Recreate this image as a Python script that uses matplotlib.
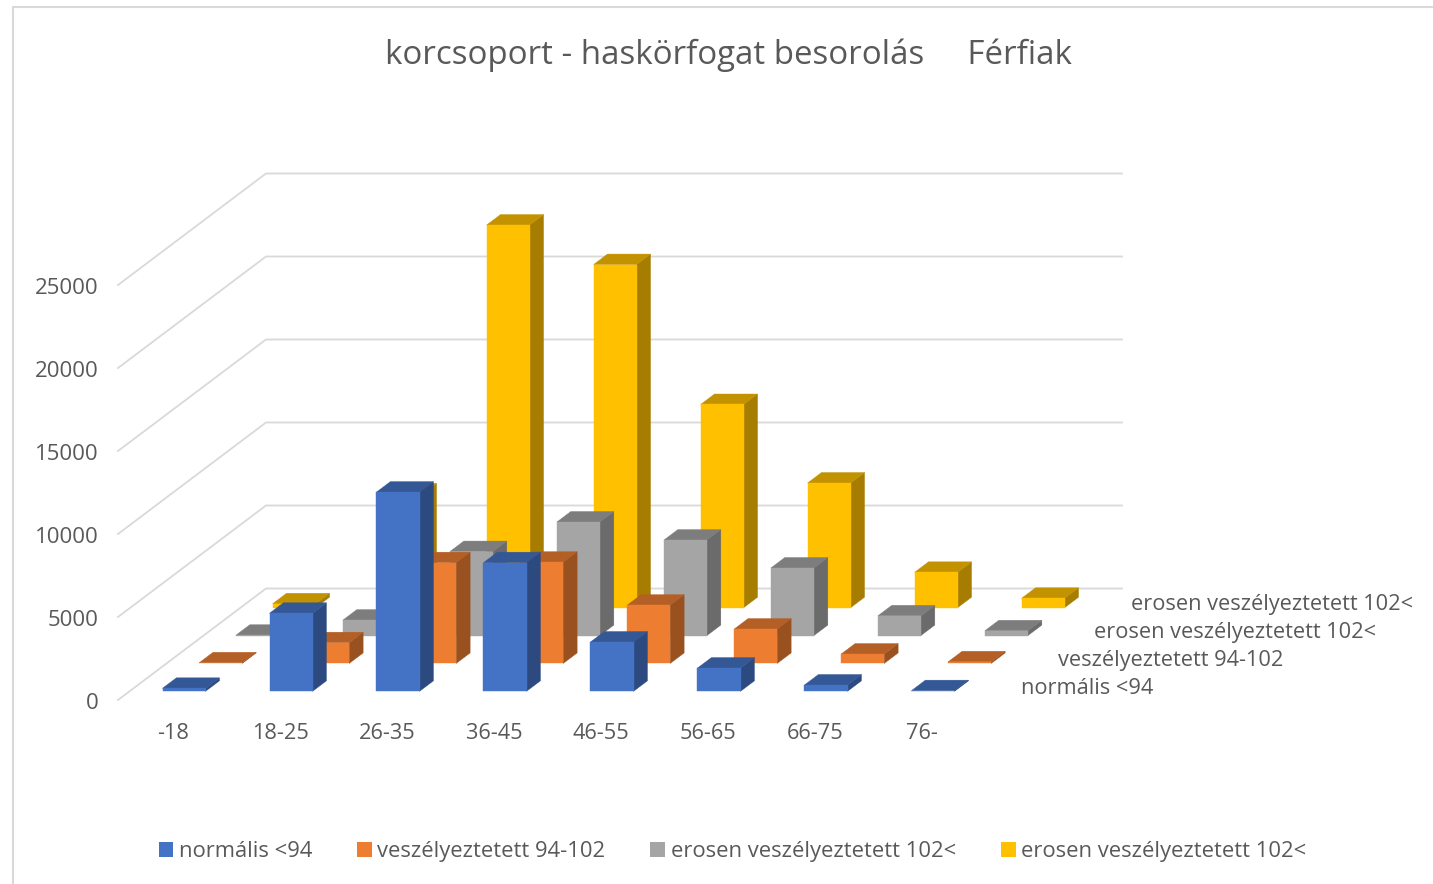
import matplotlib
matplotlib.use("Agg")
import matplotlib.pyplot as plt
from matplotlib.patches import Polygon, Patch
from matplotlib.lines import Line2D
from matplotlib.transforms import ScaledTranslation

categories = ["-18", "18-25", "26-35", "36-45", "46-55", "56-65", "66-75", "76-"]
series_names = ["normális <94", "veszélyeztetett 94-102",
                "erosen veszélyeztetett 102<", "erosen veszélyeztetett 102<"]
normalis = [180, 4700, 12000, 7750, 2970, 1400, 380, 40]
veszelyeztetett = [40, 1250, 6070, 6100, 3510, 2070, 566, 100]
erosen_a = [20, 930, 5060, 6840, 5750, 4070, 1190, 290]
erosen_b = [235, 6860, 23050, 20670, 12240, 7510, 2130, 566]
series_values = [normalis, veszelyeztetett, erosen_a, erosen_b]
value_ticks = [0, 5000, 10000, 15000, 20000, 25000]

front_colors = ["#4472C4", "#ED7D31", "#A5A5A5", "#FFC000"]
top_colors = ["#345795", "#B45F25", "#7D7D7D", "#C29200"]
side_colors = ["#2C4A7F", "#9A5120", "#6B6B6B", "#A67D00"]

W, H = 1433, 884
FONT = "Open Sans"
TXT = "#595959"
GRID = "#D9D9D9"

fig = plt.figure(figsize=(W / 100, H / 100), dpi=100, facecolor="white")

# axes frame: value 0 at y=700 px, category 0 at x=118 px
PX_CAT = 107.0
PX_VAL = 83.0 / 5000
L, R, B, T = 118, 1122, 700, 174
ax = fig.add_axes([L / W, 1 - B / H, (R - L) / W, (B - T) / H])
ax.set_xlim(0, (R - L) / PX_CAT)
ax.set_ylim(0, (B - T) / PX_VAL)
ax.patch.set_visible(False)
for s in ax.spines.values():
    s.set_visible(False)

# oblique depth: a depth of 1 series slot shifts by these data amounts
SLOT_X = 37.0 / PX_CAT
SLOT_Y = 27.875 / PX_VAL


def proj(x, depth, v):
    return (x + depth * SLOT_X, v + depth * SLOT_Y)


n_series = len(series_values)

# walls
for v in value_ticks:
    p0 = proj(0, 0, v)
    p1 = proj(0, n_series, v)
    p2 = proj(len(categories), n_series, v)
    ax.plot([p0[0], p1[0], p2[0]], [p0[1], p1[1], p2[1]], color=GRID,
            lw=1.3, zorder=1, solid_joinstyle="miter", clip_on=False)

GAP_X = 0.308
GAP_D = 0.312
z = 2
for s in range(n_series - 1, -1, -1):
    d0, d1 = s + GAP_D, s + 1 - GAP_D
    # back slots sit a fraction of a pixel further left than a strict slot step
    shift = -0.3 * s / PX_CAT
    for i, v in enumerate(series_values[s]):
        x0, x1 = i + GAP_X + shift, i + GAP_X + 0.402 + shift
        side = [proj(x1, d0, 0), proj(x1, d1, 0), proj(x1, d1, v), proj(x1, d0, v)]
        top = [proj(x0, d0, v), proj(x1, d0, v), proj(x1, d1, v), proj(x0, d1, v)]
        front = [proj(x0, d0, 0), proj(x1, d0, 0), proj(x1, d0, v), proj(x0, d0, v)]
        for pts, c in ((side, side_colors[s]), (top, top_colors[s]), (front, front_colors[s])):
            ax.add_patch(Polygon(pts, closed=True, facecolor=c, edgecolor=c, lw=0.3,
                                 zorder=z, clip_on=False))
        z += 0.01

# ticks
ax.set_yticks(value_ticks)
ax.set_yticklabels([str(v) for v in value_ticks], fontname=FONT, fontsize=16, color=TXT)
ax.set_xticks([i + 0.515 for i in range(len(categories))])
ax.set_xticklabels(categories, fontname=FONT, fontsize=15.7, color=TXT)
ax.tick_params(axis="both", length=0)
ax.tick_params(axis="y", pad=14)
ax.tick_params(axis="x", pad=16.5)
for lab in ax.get_yticklabels():
    lab.set_transform(lab.get_transform() + ScaledTranslation(0, -1 / 72, fig.dpi_scale_trans))

# depth-axis labels
for s, name in enumerate(series_names):
    px, py = proj(len(categories), s + 0.5, 0)
    ax.text(px + (29 - 0.6 * s) / PX_CAT, py - 2.2 / PX_VAL, name, fontname=FONT, fontsize=15.65,
            color=TXT, ha="left", va="center", clip_on=False)

fig.text(728 / W, 1 - 55 / H, "korcsoport - haskörfogat besorolás     Férfiak",
         fontname=FONT, fontsize=23.8, color=TXT, ha="center", va="center")

# chart frame
fig.add_artist(Line2D([13 / W, 13 / W, 1], [0, 1 - 7 / H, 1 - 7 / H], color=GRID, lw=1.5,
                      solid_joinstyle="miter"))

handles = [Patch(facecolor=c, edgecolor="none") for c in front_colors]
leg = fig.legend(handles, series_names, ncol=4, loc="center", bbox_to_anchor=(732.5 / W, 1 - 851.5 / H),
                 frameon=False, prop={"family": FONT, "size": 15.8}, labelcolor=TXT,
                 handlelength=0.68, handleheight=0.68, handletextpad=0.25, columnspacing=2.04,
                 borderpad=0)

fig.savefig("out.png", dpi=100)
